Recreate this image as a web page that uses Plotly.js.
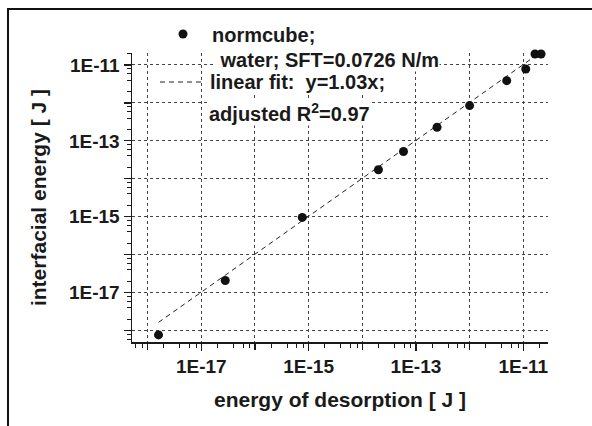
<!DOCTYPE html>
<html>
<head>
<meta charset="utf-8">
<script src="https://cdn.plot.ly/plotly-3.0.1.min.js"></script>
<style>
  html, body { margin: 0; padding: 0; background: #fff; }
  #wrap { position: relative; width: 592px; height: 426px; overflow: hidden; }
  #chart { position: absolute; left: 0; top: 0; width: 592px; height: 426px; }
  #frame { position: absolute; left: 7px; top: 8px; width: 800px; height: 800px;
           border-left: 2px solid #111; border-top: 2px solid #111; pointer-events: none; }
</style>
</head>
<body>
<div id="wrap"><div id="chart"></div><div id="frame"></div></div>
<script>
// ---- data ----
const energyDesorption = [1.60e-18, 2.80e-17, 7.62e-16, 2.00e-14, 5.86e-14, 2.47e-13, 1.00e-12, 4.91e-12, 1.11e-11, 1.65e-11, 2.14e-11];
const interfacialEnergy = [7.71e-19, 2.09e-17, 9.62e-16, 1.73e-14, 5.25e-14, 2.29e-13, 8.51e-13, 3.86e-12, 7.85e-12, 1.95e-11, 1.95e-11];
const fitSlope = 1.03;
const fitXRange = [1.6e-18, 1.8e-11];

// labelled decades
const xTickVals = [1e-17, 1e-15, 1e-13, 1e-11];
const xTickText = ['1E-17', '1E-15', '1E-13', '1E-11'];
const yTickVals = [1e-17, 1e-15, 1e-13, 1e-11];
const yTickText = ['1E-17', '1E-15', '1E-13', '1E-11'];
// unlabelled decades (tick + grid only)
const xPlainDecades = [1e-18, 1e-16, 1e-14, 1e-12];
const yPlainDecades = [1e-18, 1e-16, 1e-14, 1e-12];
const minorMultipliers = [2, 4, 6, 8];

const legendLines = ['normcube;', ' water; SFT=0.0726 N/m', 'linear fit:  y=1.03x;', 'adjusted R<sup>2</sup>=0.97'];
const xTitle = 'energy of desorption [ J ]';
const yTitle = 'interfacial energy [ J ]';

// ---- helpers ----
const allDecades = [1e-19, 1e-18, 1e-17, 1e-16, 1e-15, 1e-14, 1e-13, 1e-12, 1e-11];
const minorVals = [];
for (const d of allDecades) for (const m of minorMultipliers) minorVals.push(d * m);

const fitY = fitXRange.map(x => fitSlope * x);

const FONT = 'Liberation Sans, Arial, Helvetica, sans-serif';
const INK = '#1a1a1a';

// plot area in pixels
const L = 132, R = 44, T = 53, B = 84, W = 592, H = 426;
const pw = W - L - R, ph = H - T - B;
const px = x => (x - L) / pw;
const py = y => (H - B - y) / ph;
const XR = [-18.29, -10.54], YR = [-18.30, -10.684];

const traces = [
  {
    x: fitXRange, y: fitY, type: 'scatter', mode: 'lines',
    line: { color: '#222', width: 1, dash: '5px,4px' },
    showlegend: false, hoverinfo: 'skip'
  },
  {
    x: energyDesorption, y: interfacialEnergy, type: 'scatter', mode: 'markers',
    marker: { color: '#111', size: 9 }, cliponaxis: false,
    showlegend: false
  },
  { // carrier for the overlay axes (unlabelled decade ticks/grid)
    x: [xPlainDecades[0]], y: [yPlainDecades[0]], xaxis: 'x2', yaxis: 'y2',
    type: 'scatter', mode: 'markers', marker: { opacity: 0 }, showlegend: false, hoverinfo: 'skip'
  }
];

const gridStyle = { showgrid: true, gridcolor: '#444', griddash: 'dot', gridwidth: 1 };

function axisCommon(tv, tt) {
  return Object.assign({
    type: 'log',
    tickmode: 'array', tickvals: tv, ticktext: tt,
    ticks: 'outside', ticklen: 7, tickwidth: 1.2, tickcolor: INK,
    showline: true, linecolor: INK, linewidth: 1.5,
    zeroline: false,
    tickfont: { family: FONT, size: 19, color: INK, weight: 'bold' },
    minor: { tickmode: 'array', tickvals: minorVals, ticks: 'outside', ticklen: 4, tickwidth: 1, tickcolor: INK, showgrid: false },
    mirror: false
  }, gridStyle);
}

const xaxis = Object.assign(axisCommon(xTickVals, xTickText), {
  range: XR,
  title: { text: xTitle, font: { family: FONT, size: 21, color: INK, weight: 'bold' }, standoff: 16 }
});
const yaxis = Object.assign(axisCommon(yTickVals, yTickText), {
  range: YR,
  title: { text: yTitle, font: { family: FONT, size: 21, color: INK, weight: 'bold' }, standoff: 16 }
});
const xaxis2 = Object.assign({
  type: 'log', overlaying: 'x', side: 'bottom', range: XR,
  tickmode: 'array', tickvals: xPlainDecades, showticklabels: false,
  ticks: 'outside', ticklen: 7, tickwidth: 1.2, tickcolor: INK,
  showline: false, zeroline: false
}, gridStyle);
const yaxis2 = Object.assign({
  type: 'log', overlaying: 'y', side: 'left', range: YR,
  tickmode: 'array', tickvals: yPlainDecades, showticklabels: false,
  ticks: 'outside', ticklen: 7, tickwidth: 1.2, tickcolor: INK,
  showline: false, zeroline: false
}, gridStyle);

const legFont = { family: FONT, size: 20, color: INK, weight: 'bold' };
const legendPos = [ [211, 34.5], [214, 60.5], [209, 82], [208, 113] ];
const annotations = legendLines.map((t, i) => ({
  xref: 'paper', yref: 'paper', x: px(legendPos[i][0]), y: py(legendPos[i][1]),
  xanchor: 'left', yanchor: 'middle', text: t, showarrow: false,
  font: legFont, bgcolor: '#fff', borderpad: 0
}));

const r = 4.5;
const shapes = [
  { type: 'circle', xref: 'paper', yref: 'paper',
    x0: px(183 - r), x1: px(183 + r), y0: py(34 + r), y1: py(34 - r),
    fillcolor: '#111', line: { width: 0 } },
  { type: 'line', xref: 'paper', yref: 'paper',
    x0: px(160), x1: px(205), y0: py(82), y1: py(82),
    line: { color: '#222', width: 1, dash: '5px,4px' } }
];

const layout = {
  width: W, height: H,
  margin: { l: L, r: R, t: T, b: B, pad: 0 },
  paper_bgcolor: '#fff', plot_bgcolor: '#fff',
  xaxis, yaxis, xaxis2, yaxis2, annotations, shapes,
  showlegend: false,
  font: { family: FONT, color: INK }
};

Plotly.newPlot('chart', traces, layout, { displayModeBar: false, staticPlot: true });
</script>
</body>
</html>
